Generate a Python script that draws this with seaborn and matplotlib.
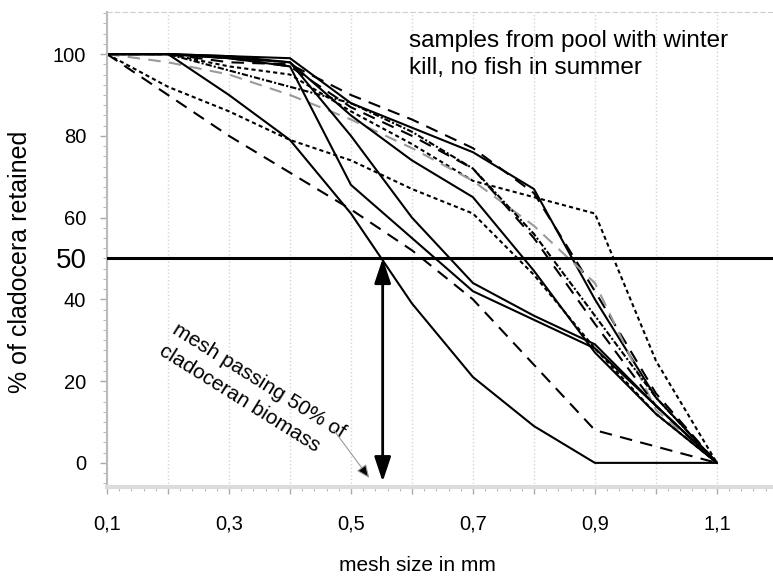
import matplotlib
matplotlib.use("Agg")
import matplotlib.pyplot as plt
import matplotlib.ticker as mticker
import matplotlib.transforms as mtransforms
import pandas as pd
import seaborn as sns

# mesh sizes (mm) and % of cladocera retained, one list per sample
mesh = [0.1, 0.2, 0.3, 0.4, 0.5, 0.6, 0.7, 0.8, 0.9, 1.0, 1.1]

s1 = [100, 100, 99.5, 99, 88, 82, 76, 67, 40, 16, 0]
d1 = [100, 100, 98, 97.5, 90, 84, 77, 66, 42, 17, 0]
dt1 = [100, 100, 97, 95, 86, 78, 69, 65, 61, 25, 0]
gr = [100, 98, 95, 90, 84, 77, 69, 58, 44, 13, 0]
d2 = [100, 100, 99, 97, 87, 80, 72, 55, 34, 14, 0]
s3 = [100, 100, 99.5, 98, 85, 74, 65, 47, 27, 12, 0]
dt2 = [100, 92, 86, 79, 74, 67, 61, 46, 28, 12, 0]
c1 = [100, 100, 99, 97, 68, 55, 42, 35, 28, 14, 0]
c2 = [100, 100, 99, 98, 80, 60, 44, 36, 29, 14, 0]
a = [100, 100, 90, 79, 61, 39, 21, 9, 0, 0, 0]
b = [100, 90, 80, 71, 62, 52, 40, 24, 8, 4, 0]
hd = [100, 100, 96, 92, 88, 81, 72, 56, 36, 16, 0]

samples = {"s1": s1, "d1": d1, "dt1": dt1, "gr": gr, "d2": d2, "s3": s3,
           "dt2": dt2, "c1": c1, "c2": c2, "a": a, "b": b, "hd": hd}

xticks_major = [0.1, 0.2, 0.3, 0.4, 0.5, 0.6, 0.7, 0.8, 0.9, 1.0, 1.1]
xtick_labels = ["0,1", "", "0,3", "", "0,5", "", "0,7", "", "0,9", "", "1,1"]
yticks = [0, 20, 40, 60, 80, 100]

half_level = 50      # % retained
half_mesh = 0.552    # mesh passing 50%

# line look per sample
palette = {k: "black" for k in samples}
palette["gr"] = "#9a9a9a"
dashes = {"s1": "", "d1": (6, 4), "dt1": (2, 1.5), "gr": (6, 4), "d2": (6, 4),
          "s3": "", "dt2": (2, 1.5), "c1": "", "c2": "", "a": "", "b": (6, 4),
          "hd": (3, 1, 1, 1)}

df = pd.concat(
    [pd.DataFrame({"mesh": mesh, "retained": v, "sample": k}) for k, v in samples.items()],
    ignore_index=True)

sns.set_style("white")
plt.rcParams["font.family"] = ["Liberation Sans", "DejaVu Sans"]
plt.rcParams["text.color"] = "black"
plt.rcParams["axes.labelcolor"] = "black"
plt.rcParams["xtick.labelcolor"] = "black"
plt.rcParams["ytick.labelcolor"] = "black"

fig = plt.figure(figsize=(7.73, 5.77), dpi=100)
ax = fig.add_axes([107 / 773, 90 / 577, 666 / 773, 475 / 577])

sns.lineplot(data=df, x="mesh", y="retained", hue="sample", style="sample",
             palette=palette, dashes=dashes, linewidth=1.5, legend=False, ax=ax)

ax.axhline(half_level, color="black", lw=2.2, zorder=5)

ax.set_xlim(0.1, 1.192)
ax.set_ylim(-5.9, 110.3)

ax.set_xticks(xticks_major)
ax.set_xticklabels(xtick_labels)
ax.xaxis.set_minor_locator(mticker.MultipleLocator(0.02))
ax.set_yticks(yticks)
ax.yaxis.set_minor_locator(mticker.MultipleLocator(2.5))
ax.tick_params(axis="x", which="major", direction="out", length=5, width=1,
               color="#aaaaaa", labelsize=14.5, pad=15, bottom=True)
ax.tick_params(axis="x", which="minor", direction="out", length=3, width=0.8,
               color="#bbbbbb", bottom=True)
ax.tick_params(axis="y", which="major", direction="out", length=5, width=1,
               color="#aaaaaa", labelsize=14.5, pad=10, left=True)
ax.tick_params(axis="y", which="minor", direction="out", length=3, width=0.8,
               color="#bbbbbb", left=True)

ax.grid(axis="x", which="major", color="#d5d5d5", linestyle=":", lw=1)
ax.grid(axis="y", visible=False)

ax.spines["right"].set_visible(False)
ax.spines["top"].set_color("#cccccc")
ax.spines["top"].set_linestyle((0, (4, 3)))
ax.spines["left"].set_color("#bbbbbb")
ax.spines["left"].set_linewidth(1.5)
ax.spines["bottom"].set_color("#dcdcdc")
ax.spines["bottom"].set_linewidth(3)

# extra, larger "50" label on the y axis
trans = mtransforms.blended_transform_factory(ax.transAxes, ax.transData)
ax.text(-0.03, half_level - 0.6, "50", transform=trans, ha="right", va="center",
        fontsize=20)

ax.set_xlabel("mesh size in mm", fontsize=15)
ax.xaxis.set_label_coords(0.466, -0.145)
ax.set_ylabel("% of cladocera retained", fontsize=18)
ax.yaxis.set_label_coords(-0.113, 0.474)

ax.text(0.453, 0.962, "samples from pool with winter\nkill, no fish in summer",
        transform=ax.transAxes, ha="left", va="top", fontsize=17.5, linespacing=1.3)

# double-headed arrow marking the 50% mesh size
ax.annotate("", xy=(half_mesh, half_level), xytext=(half_mesh, -4.6),
            arrowprops=dict(arrowstyle="<|-|>,head_length=1.5,head_width=0.5",
                            color="black", lw=2, shrinkA=0, shrinkB=0), zorder=6)

ax.text(0.338, 17.4, "mesh passing 50% of\ncladoceran biomass", rotation=-32,
        rotation_mode="anchor", ha="center", va="center", multialignment="left",
        fontsize=15, linespacing=1.4)
ax.annotate("", xy=(0.53, -3.7), xytext=(0.472, 8),
            arrowprops=dict(arrowstyle="-|>,head_length=0.8,head_width=0.35",
                            ec="#999999", fc="black", lw=0.8, shrinkA=0, shrinkB=0))

fig.savefig("out.png", dpi=100)
